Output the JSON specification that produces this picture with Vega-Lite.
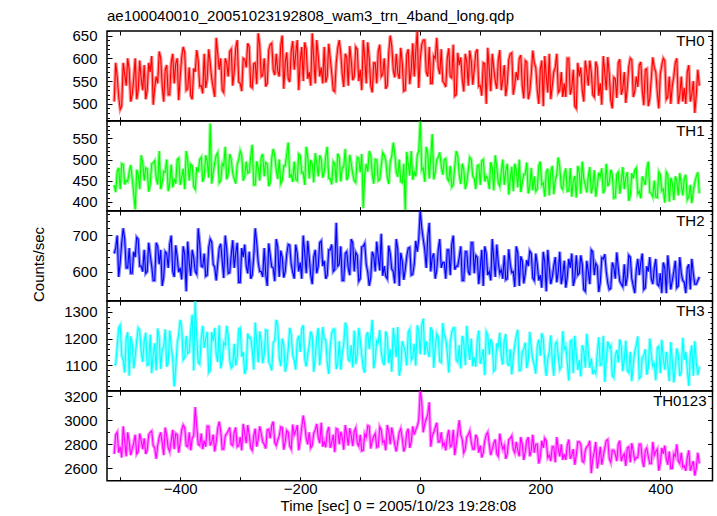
{
"$schema":"https://vega.github.io/schema/vega-lite/v6.json",
"padding":{"left":31,"top":9,"right":0,"bottom":0},
"background":"white",
"title":{"text":"ae100040010_20051023192808_wam3_trn_4band_long.qdp","anchor":"start","frame":"group","fontSize":15,"fontWeight":"normal","font":"Liberation Sans","color":"#000","offset":-1},
"datasets":{
"TH0":[{"t":-510,"v":505},{"t":-505,"v":560},{"t":-500,"v":488},{"t":-495,"v":590},{"t":-490,"v":540},{"t":-485,"v":575},{"t":-480,"v":520},{"t":-475,"v":600},{"t":-470,"v":530},{"t":-465,"v":555},
{"t":-460,"v":585},{"t":-455,"v":530},{"t":-450,"v":570},{"t":-445,"v":498},{"t":-440,"v":560},{"t":-435,"v":615},{"t":-430,"v":540},{"t":-425,"v":575},{"t":-420,"v":520},{"t":-415,"v":590},
{"t":-410,"v":545},{"t":-405,"v":600},{"t":-400,"v":560},{"t":-395,"v":625},{"t":-390,"v":530},{"t":-385,"v":580},{"t":-380,"v":510},{"t":-375,"v":570},{"t":-370,"v":595},{"t":-365,"v":540},
{"t":-360,"v":610},{"t":-355,"v":555},{"t":-350,"v":590},{"t":-345,"v":535},{"t":-340,"v":645},{"t":-335,"v":575},{"t":-330,"v":530},{"t":-325,"v":600},{"t":-320,"v":560},{"t":-315,"v":620},
{"t":-310,"v":570},{"t":-305,"v":640},{"t":-300,"v":545},{"t":-295,"v":600},{"t":-290,"v":580},{"t":-285,"v":625},{"t":-280,"v":535},{"t":-275,"v":590},{"t":-270,"v":655},{"t":-265,"v":560},
{"t":-260,"v":600},{"t":-255,"v":545},{"t":-250,"v":630},{"t":-245,"v":575},{"t":-240,"v":610},{"t":-235,"v":560},{"t":-230,"v":650},{"t":-225,"v":590},{"t":-220,"v":555},{"t":-215,"v":615},
{"t":-210,"v":575},{"t":-205,"v":640},{"t":-200,"v":595},{"t":-195,"v":550},{"t":-190,"v":620},{"t":-185,"v":570},{"t":-180,"v":655},{"t":-175,"v":545},{"t":-170,"v":605},{"t":-165,"v":580},
{"t":-160,"v":625},{"t":-155,"v":560},{"t":-150,"v":600},{"t":-145,"v":530},{"t":-140,"v":590},{"t":-135,"v":640},{"t":-130,"v":565},{"t":-125,"v":610},{"t":-120,"v":540},{"t":-115,"v":595},
{"t":-110,"v":560},{"t":-105,"v":620},{"t":-100,"v":575},{"t":-95,"v":640},{"t":-90,"v":545},{"t":-85,"v":600},{"t":-80,"v":525},{"t":-75,"v":590},{"t":-70,"v":615},{"t":-65,"v":560},
{"t":-60,"v":600},{"t":-55,"v":540},{"t":-50,"v":650},{"t":-45,"v":575},{"t":-40,"v":610},{"t":-35,"v":555},{"t":-30,"v":590},{"t":-25,"v":530},{"t":-20,"v":620},{"t":-15,"v":575},
{"t":-10,"v":560},{"t":-5,"v":660},{"t":0,"v":600},{"t":5,"v":640},{"t":10,"v":570},{"t":15,"v":625},{"t":20,"v":545},{"t":25,"v":600},{"t":30,"v":580},{"t":35,"v":620},
{"t":40,"v":545},{"t":45,"v":600},{"t":50,"v":560},{"t":55,"v":630},{"t":60,"v":520},{"t":65,"v":585},{"t":70,"v":555},{"t":75,"v":610},{"t":80,"v":540},{"t":85,"v":595},
{"t":90,"v":575},{"t":95,"v":620},{"t":100,"v":540},{"t":105,"v":590},{"t":110,"v":500},{"t":115,"v":575},{"t":120,"v":610},{"t":125,"v":550},{"t":130,"v":595},{"t":135,"v":530},
{"t":140,"v":585},{"t":145,"v":545},{"t":150,"v":610},{"t":155,"v":520},{"t":160,"v":570},{"t":165,"v":600},{"t":170,"v":540},{"t":175,"v":595},{"t":180,"v":510},{"t":185,"v":565},
{"t":190,"v":590},{"t":195,"v":530},{"t":200,"v":575},{"t":205,"v":495},{"t":210,"v":560},{"t":215,"v":610},{"t":220,"v":540},{"t":225,"v":580},{"t":230,"v":525},{"t":235,"v":570},
{"t":240,"v":545},{"t":245,"v":600},{"t":250,"v":520},{"t":255,"v":575},{"t":260,"v":490},{"t":265,"v":560},{"t":270,"v":530},{"t":275,"v":595},{"t":280,"v":540},{"t":285,"v":570},
{"t":290,"v":515},{"t":295,"v":580},{"t":300,"v":545},{"t":305,"v":605},{"t":310,"v":530},{"t":315,"v":565},{"t":320,"v":490},{"t":325,"v":555},{"t":330,"v":590},{"t":335,"v":520},
{"t":340,"v":570},{"t":345,"v":535},{"t":350,"v":600},{"t":355,"v":515},{"t":360,"v":560},{"t":365,"v":585},{"t":370,"v":530},{"t":375,"v":575},{"t":380,"v":495},{"t":385,"v":555},
{"t":390,"v":580},{"t":395,"v":525},{"t":400,"v":565},{"t":405,"v":600},{"t":410,"v":510},{"t":415,"v":560},{"t":420,"v":540},{"t":425,"v":590},{"t":430,"v":500},{"t":435,"v":560},
{"t":440,"v":535},{"t":445,"v":570},{"t":450,"v":505},{"t":455,"v":550},{"t":460,"v":520},{"t":465,"v":540},
{"t":-507.5,"v":590},{"t":-502.5,"v":515},{"t":-497.5,"v":495},{"t":-492.5,"v":565},{"t":-487.5,"v":600},{"t":-482.5,"v":505},{"t":-477.5,"v":555},{"t":-472.5,"v":510},{"t":-467.5,"v":595},{"t":-462.5,"v":530},
{"t":-457.5,"v":510},{"t":-452.5,"v":590},{"t":-447.5,"v":605},{"t":-442.5,"v":535},{"t":-437.5,"v":545},{"t":-432.5,"v":600},{"t":-427.5,"v":505},{"t":-422.5,"v":585},{"t":-417.5,"v":520},{"t":-412.5,"v":610},
{"t":-407.5,"v":588},{"t":-402.5,"v":508},{"t":-397.5,"v":603},{"t":-392.5,"v":613},{"t":-387.5,"v":533},{"t":-382.5,"v":518},{"t":-377.5,"v":578},{"t":-372.5,"v":618},{"t":-367.5,"v":538},{"t":-362.5,"v":523},
{"t":-357.5,"v":535},{"t":-352.5,"v":620},{"t":-347.5,"v":555},{"t":-342.5,"v":515},{"t":-337.5,"v":610},{"t":-332.5,"v":600},{"t":-327.5,"v":525},{"t":-322.5,"v":590},{"t":-317.5,"v":615},{"t":-312.5,"v":540},
{"t":-307.5,"v":623},{"t":-302.5,"v":548},{"t":-297.5,"v":528},{"t":-292.5,"v":598},{"t":-287.5,"v":633},{"t":-282.5,"v":538},{"t":-277.5,"v":588},{"t":-272.5,"v":543},{"t":-267.5,"v":628},{"t":-262.5,"v":563},
{"t":-257.5,"v":538},{"t":-252.5,"v":618},{"t":-247.5,"v":633},{"t":-242.5,"v":563},{"t":-237.5,"v":573},{"t":-232.5,"v":628},{"t":-227.5,"v":533},{"t":-222.5,"v":613},{"t":-217.5,"v":548},{"t":-212.5,"v":638},
{"t":-207.5,"v":610},{"t":-202.5,"v":530},{"t":-197.5,"v":625},{"t":-192.5,"v":635},{"t":-187.5,"v":555},{"t":-182.5,"v":540},{"t":-177.5,"v":600},{"t":-172.5,"v":640},{"t":-167.5,"v":560},{"t":-162.5,"v":545},
{"t":-157.5,"v":547},{"t":-152.5,"v":632},{"t":-147.5,"v":567},{"t":-142.5,"v":527},{"t":-137.5,"v":622},{"t":-132.5,"v":612},{"t":-127.5,"v":537},{"t":-122.5,"v":602},{"t":-117.5,"v":627},{"t":-112.5,"v":552},
{"t":-107.5,"v":625},{"t":-102.5,"v":550},{"t":-97.5,"v":530},{"t":-92.5,"v":600},{"t":-87.5,"v":635},{"t":-82.5,"v":540},{"t":-77.5,"v":590},{"t":-72.5,"v":545},{"t":-67.5,"v":630},{"t":-62.5,"v":565},
{"t":-57.5,"v":533},{"t":-52.5,"v":613},{"t":-47.5,"v":628},{"t":-42.5,"v":558},{"t":-37.5,"v":568},{"t":-32.5,"v":623},{"t":-27.5,"v":528},{"t":-22.5,"v":608},{"t":-17.5,"v":543},{"t":-12.5,"v":633},
{"t":-7.5,"v":615},{"t":-2.5,"v":535},{"t":2.5,"v":630},{"t":7.5,"v":640},{"t":12.5,"v":560},{"t":17.5,"v":545},{"t":22.5,"v":605},{"t":27.5,"v":645},{"t":32.5,"v":565},{"t":37.5,"v":550},
{"t":42.5,"v":537},{"t":47.5,"v":622},{"t":52.5,"v":557},{"t":57.5,"v":517},{"t":62.5,"v":612},{"t":67.5,"v":602},{"t":72.5,"v":527},{"t":77.5,"v":592},{"t":82.5,"v":617},{"t":87.5,"v":542},
{"t":92.5,"v":613},{"t":97.5,"v":538},{"t":102.5,"v":518},{"t":107.5,"v":588},{"t":112.5,"v":623},{"t":117.5,"v":528},{"t":122.5,"v":578},{"t":127.5,"v":533},{"t":132.5,"v":618},{"t":137.5,"v":553},
{"t":142.5,"v":517},{"t":147.5,"v":597},{"t":152.5,"v":612},{"t":157.5,"v":542},{"t":162.5,"v":552},{"t":167.5,"v":607},{"t":172.5,"v":512},{"t":177.5,"v":592},{"t":182.5,"v":527},{"t":187.5,"v":617},
{"t":192.5,"v":580},{"t":197.5,"v":500},{"t":202.5,"v":595},{"t":207.5,"v":605},{"t":212.5,"v":525},{"t":217.5,"v":510},{"t":222.5,"v":570},{"t":227.5,"v":610},{"t":232.5,"v":530},{"t":237.5,"v":515},
{"t":242.5,"v":515},{"t":247.5,"v":600},{"t":252.5,"v":535},{"t":257.5,"v":495},{"t":262.5,"v":590},{"t":267.5,"v":580},{"t":272.5,"v":505},{"t":277.5,"v":570},{"t":282.5,"v":595},{"t":287.5,"v":520},
{"t":292.5,"v":593},{"t":297.5,"v":518},{"t":302.5,"v":498},{"t":307.5,"v":568},{"t":312.5,"v":603},{"t":317.5,"v":508},{"t":322.5,"v":558},{"t":327.5,"v":513},{"t":332.5,"v":598},{"t":337.5,"v":533},
{"t":342.5,"v":502},{"t":347.5,"v":582},{"t":352.5,"v":597},{"t":357.5,"v":527},{"t":362.5,"v":537},{"t":367.5,"v":592},{"t":372.5,"v":497},{"t":377.5,"v":577},{"t":382.5,"v":512},{"t":387.5,"v":602},
{"t":392.5,"v":570},{"t":397.5,"v":490},{"t":402.5,"v":585},{"t":407.5,"v":595},{"t":412.5,"v":515},{"t":417.5,"v":500},{"t":422.5,"v":560},{"t":427.5,"v":600},{"t":432.5,"v":520},{"t":437.5,"v":505},
{"t":442.5,"v":500},{"t":447.5,"v":585},{"t":452.5,"v":520},{"t":457.5,"v":480},{"t":462.5,"v":575}],
"TH1":[{"t":-510,"v":440},{"t":-505,"v":472},{"t":-500,"v":430},{"t":-495,"v":488},{"t":-490,"v":450},{"t":-485,"v":470},{"t":-480,"v":455},{"t":-475,"v":382},{"t":-470,"v":465},{"t":-465,"v":510},
{"t":-460,"v":450},{"t":-455,"v":478},{"t":-450,"v":440},{"t":-445,"v":492},{"t":-440,"v":455},{"t":-435,"v":520},{"t":-430,"v":445},{"t":-425,"v":470},{"t":-420,"v":425},{"t":-415,"v":488},
{"t":-410,"v":455},{"t":-405,"v":500},{"t":-400,"v":440},{"t":-395,"v":478},{"t":-390,"v":520},{"t":-385,"v":450},{"t":-380,"v":485},{"t":-375,"v":430},{"t":-370,"v":470},{"t":-365,"v":505},
{"t":-360,"v":460},{"t":-355,"v":495},{"t":-350,"v":585},{"t":-345,"v":470},{"t":-340,"v":510},{"t":-335,"v":445},{"t":-330,"v":490},{"t":-325,"v":530},{"t":-320,"v":465},{"t":-315,"v":500},
{"t":-310,"v":455},{"t":-305,"v":488},{"t":-300,"v":520},{"t":-295,"v":450},{"t":-290,"v":495},{"t":-285,"v":470},{"t":-280,"v":535},{"t":-275,"v":440},{"t":-270,"v":480},{"t":-265,"v":505},
{"t":-260,"v":460},{"t":-255,"v":490},{"t":-250,"v":445},{"t":-245,"v":525},{"t":-240,"v":475},{"t":-235,"v":500},{"t":-230,"v":450},{"t":-225,"v":485},{"t":-220,"v":540},{"t":-215,"v":465},
{"t":-210,"v":495},{"t":-205,"v":450},{"t":-200,"v":510},{"t":-195,"v":470},{"t":-190,"v":530},{"t":-185,"v":455},{"t":-180,"v":490},{"t":-175,"v":515},{"t":-170,"v":460},{"t":-165,"v":500},
{"t":-160,"v":470},{"t":-155,"v":530},{"t":-150,"v":455},{"t":-145,"v":495},{"t":-140,"v":445},{"t":-135,"v":505},{"t":-130,"v":480},{"t":-125,"v":525},{"t":-120,"v":460},{"t":-115,"v":490},
{"t":-110,"v":450},{"t":-105,"v":505},{"t":-100,"v":470},{"t":-95,"v":385},{"t":-90,"v":490},{"t":-85,"v":520},{"t":-80,"v":465},{"t":-75,"v":500},{"t":-70,"v":450},{"t":-65,"v":485},
{"t":-60,"v":510},{"t":-55,"v":460},{"t":-50,"v":495},{"t":-45,"v":540},{"t":-40,"v":470},{"t":-35,"v":500},{"t":-30,"v":445},{"t":-25,"v":380},{"t":-20,"v":490},{"t":-15,"v":520},
{"t":-10,"v":470},{"t":-5,"v":510},{"t":0,"v":590},{"t":5,"v":480},{"t":10,"v":530},{"t":15,"v":455},{"t":20,"v":560},{"t":25,"v":470},{"t":30,"v":505},{"t":35,"v":485},
{"t":40,"v":500},{"t":45,"v":455},{"t":50,"v":485},{"t":55,"v":440},{"t":60,"v":520},{"t":65,"v":465},{"t":70,"v":490},{"t":75,"v":430},{"t":80,"v":475},{"t":85,"v":500},
{"t":90,"v":455},{"t":95,"v":485},{"t":100,"v":440},{"t":105,"v":500},{"t":110,"v":460},{"t":115,"v":430},{"t":120,"v":480},{"t":125,"v":510},{"t":130,"v":445},{"t":135,"v":470},
{"t":140,"v":440},{"t":145,"v":490},{"t":150,"v":455},{"t":155,"v":425},{"t":160,"v":475},{"t":165,"v":500},{"t":170,"v":445},{"t":175,"v":465},{"t":180,"v":420},{"t":185,"v":480},
{"t":190,"v":460},{"t":195,"v":430},{"t":200,"v":495},{"t":205,"v":445},{"t":210,"v":470},{"t":215,"v":415},{"t":220,"v":485},{"t":225,"v":450},{"t":230,"v":505},{"t":235,"v":435},
{"t":240,"v":465},{"t":245,"v":425},{"t":250,"v":480},{"t":255,"v":450},{"t":260,"v":410},{"t":265,"v":470},{"t":270,"v":495},{"t":275,"v":440},{"t":280,"v":460},{"t":285,"v":420},
{"t":290,"v":475},{"t":295,"v":440},{"t":300,"v":460},{"t":305,"v":420},{"t":310,"v":490},{"t":315,"v":445},{"t":320,"v":465},{"t":325,"v":410},{"t":330,"v":470},{"t":335,"v":450},
{"t":340,"v":430},{"t":345,"v":470},{"t":350,"v":415},{"t":355,"v":455},{"t":360,"v":480},{"t":365,"v":425},{"t":370,"v":460},{"t":375,"v":440},{"t":380,"v":495},{"t":385,"v":420},
{"t":390,"v":450},{"t":395,"v":410},{"t":400,"v":465},{"t":405,"v":430},{"t":410,"v":470},{"t":415,"v":400},{"t":420,"v":445},{"t":425,"v":460},{"t":430,"v":415},{"t":435,"v":440},
{"t":440,"v":455},{"t":445,"v":405},{"t":450,"v":440},{"t":455,"v":425},{"t":460,"v":460},{"t":465,"v":420},
{"t":-507.5,"v":423},{"t":-502.5,"v":480},{"t":-497.5,"v":490},{"t":-492.5,"v":441},{"t":-487.5,"v":448},{"t":-482.5,"v":487},{"t":-477.5,"v":420},{"t":-472.5,"v":476},{"t":-467.5,"v":430},{"t":-462.5,"v":493},
{"t":-457.5,"v":480},{"t":-452.5,"v":424},{"t":-447.5,"v":490},{"t":-442.5,"v":497},{"t":-437.5,"v":441},{"t":-432.5,"v":430},{"t":-427.5,"v":472},{"t":-422.5,"v":500},{"t":-417.5,"v":444},{"t":-412.5,"v":434},
{"t":-407.5,"v":443},{"t":-402.5,"v":503},{"t":-397.5,"v":458},{"t":-392.5,"v":430},{"t":-387.5,"v":496},{"t":-382.5,"v":489},{"t":-377.5,"v":436},{"t":-372.5,"v":482},{"t":-367.5,"v":500},{"t":-362.5,"v":447},
{"t":-357.5,"v":510},{"t":-352.5,"v":457},{"t":-347.5,"v":443},{"t":-342.5,"v":492},{"t":-337.5,"v":516},{"t":-332.5,"v":450},{"t":-327.5,"v":485},{"t":-322.5,"v":453},{"t":-317.5,"v":513},{"t":-312.5,"v":468},
{"t":-307.5,"v":443},{"t":-302.5,"v":500},{"t":-297.5,"v":510},{"t":-292.5,"v":461},{"t":-287.5,"v":468},{"t":-282.5,"v":507},{"t":-277.5,"v":440},{"t":-272.5,"v":496},{"t":-267.5,"v":450},{"t":-262.5,"v":513},
{"t":-257.5,"v":493},{"t":-252.5,"v":437},{"t":-247.5,"v":503},{"t":-242.5,"v":510},{"t":-237.5,"v":454},{"t":-232.5,"v":443},{"t":-227.5,"v":485},{"t":-222.5,"v":513},{"t":-217.5,"v":457},{"t":-212.5,"v":447},
{"t":-207.5,"v":453},{"t":-202.5,"v":513},{"t":-197.5,"v":468},{"t":-192.5,"v":440},{"t":-187.5,"v":506},{"t":-182.5,"v":499},{"t":-177.5,"v":446},{"t":-172.5,"v":492},{"t":-167.5,"v":510},{"t":-162.5,"v":457},
{"t":-157.5,"v":508},{"t":-152.5,"v":455},{"t":-147.5,"v":441},{"t":-142.5,"v":490},{"t":-137.5,"v":514},{"t":-132.5,"v":448},{"t":-127.5,"v":483},{"t":-122.5,"v":451},{"t":-117.5,"v":511},{"t":-112.5,"v":466},
{"t":-107.5,"v":446},{"t":-102.5,"v":503},{"t":-97.5,"v":513},{"t":-92.5,"v":464},{"t":-87.5,"v":471},{"t":-82.5,"v":510},{"t":-77.5,"v":443},{"t":-72.5,"v":499},{"t":-67.5,"v":453},{"t":-62.5,"v":516},
{"t":-57.5,"v":498},{"t":-52.5,"v":442},{"t":-47.5,"v":508},{"t":-42.5,"v":515},{"t":-37.5,"v":459},{"t":-32.5,"v":448},{"t":-27.5,"v":490},{"t":-22.5,"v":518},{"t":-17.5,"v":462},{"t":-12.5,"v":452},
{"t":-7.5,"v":460},{"t":-2.5,"v":520},{"t":2.5,"v":475},{"t":7.5,"v":447},{"t":12.5,"v":513},{"t":17.5,"v":506},{"t":22.5,"v":453},{"t":27.5,"v":499},{"t":32.5,"v":517},{"t":37.5,"v":464},
{"t":42.5,"v":502},{"t":47.5,"v":449},{"t":52.5,"v":435},{"t":57.5,"v":484},{"t":62.5,"v":508},{"t":67.5,"v":442},{"t":72.5,"v":477},{"t":77.5,"v":445},{"t":82.5,"v":505},{"t":87.5,"v":460},
{"t":92.5,"v":430},{"t":97.5,"v":487},{"t":102.5,"v":497},{"t":107.5,"v":448},{"t":112.5,"v":455},{"t":117.5,"v":494},{"t":122.5,"v":427},{"t":127.5,"v":483},{"t":132.5,"v":437},{"t":137.5,"v":500},
{"t":142.5,"v":473},{"t":147.5,"v":417},{"t":152.5,"v":483},{"t":157.5,"v":490},{"t":162.5,"v":434},{"t":167.5,"v":423},{"t":172.5,"v":465},{"t":177.5,"v":493},{"t":182.5,"v":437},{"t":187.5,"v":427},
{"t":192.5,"v":425},{"t":197.5,"v":485},{"t":202.5,"v":440},{"t":207.5,"v":412},{"t":212.5,"v":478},{"t":217.5,"v":471},{"t":222.5,"v":418},{"t":227.5,"v":464},{"t":232.5,"v":482},{"t":237.5,"v":429},
{"t":242.5,"v":479},{"t":247.5,"v":426},{"t":252.5,"v":412},{"t":257.5,"v":461},{"t":262.5,"v":485},{"t":267.5,"v":419},{"t":272.5,"v":454},{"t":277.5,"v":422},{"t":282.5,"v":482},{"t":287.5,"v":437},
{"t":292.5,"v":412},{"t":297.5,"v":469},{"t":302.5,"v":479},{"t":307.5,"v":430},{"t":312.5,"v":437},{"t":317.5,"v":476},{"t":322.5,"v":409},{"t":327.5,"v":465},{"t":332.5,"v":419},{"t":337.5,"v":482},
{"t":342.5,"v":458},{"t":347.5,"v":402},{"t":352.5,"v":468},{"t":357.5,"v":475},{"t":362.5,"v":419},{"t":367.5,"v":408},{"t":372.5,"v":450},{"t":377.5,"v":478},{"t":382.5,"v":422},{"t":387.5,"v":412},
{"t":392.5,"v":411},{"t":397.5,"v":471},{"t":402.5,"v":426},{"t":407.5,"v":398},{"t":412.5,"v":464},{"t":417.5,"v":457},{"t":422.5,"v":404},{"t":427.5,"v":450},{"t":432.5,"v":468},{"t":437.5,"v":415},
{"t":442.5,"v":464},{"t":447.5,"v":411},{"t":452.5,"v":397},{"t":457.5,"v":446},{"t":462.5,"v":470}],
"TH2":[{"t":-510,"v":650},{"t":-505,"v":700},{"t":-500,"v":625},{"t":-495,"v":720},{"t":-490,"v":610},{"t":-485,"v":665},{"t":-480,"v":595},{"t":-475,"v":640},{"t":-470,"v":690},{"t":-465,"v":615},
{"t":-460,"v":660},{"t":-455,"v":600},{"t":-450,"v":645},{"t":-445,"v":575},{"t":-440,"v":680},{"t":-435,"v":620},{"t":-430,"v":560},{"t":-425,"v":655},{"t":-420,"v":610},{"t":-415,"v":700},
{"t":-410,"v":585},{"t":-405,"v":640},{"t":-400,"v":610},{"t":-395,"v":670},{"t":-390,"v":545},{"t":-385,"v":625},{"t":-380,"v":660},{"t":-375,"v":600},{"t":-370,"v":720},{"t":-365,"v":615},
{"t":-360,"v":650},{"t":-355,"v":590},{"t":-350,"v":690},{"t":-345,"v":620},{"t":-340,"v":575},{"t":-335,"v":665},{"t":-330,"v":630},{"t":-325,"v":700},{"t":-320,"v":595},{"t":-315,"v":645},
{"t":-310,"v":610},{"t":-305,"v":680},{"t":-300,"v":570},{"t":-295,"v":640},{"t":-290,"v":615},{"t":-285,"v":655},{"t":-280,"v":590},{"t":-275,"v":720},{"t":-270,"v":625},{"t":-265,"v":600},
{"t":-260,"v":665},{"t":-255,"v":560},{"t":-250,"v":645},{"t":-245,"v":610},{"t":-240,"v":690},{"t":-235,"v":585},{"t":-230,"v":640},{"t":-225,"v":600},{"t":-220,"v":675},{"t":-215,"v":620},
{"t":-210,"v":580},{"t":-205,"v":650},{"t":-200,"v":625},{"t":-195,"v":700},{"t":-190,"v":595},{"t":-185,"v":640},{"t":-180,"v":565},{"t":-175,"v":660},{"t":-170,"v":615},{"t":-165,"v":685},
{"t":-160,"v":630},{"t":-155,"v":590},{"t":-150,"v":660},{"t":-145,"v":600},{"t":-140,"v":735},{"t":-135,"v":620},{"t":-130,"v":575},{"t":-125,"v":650},{"t":-120,"v":610},{"t":-115,"v":690},
{"t":-110,"v":600},{"t":-105,"v":645},{"t":-100,"v":580},{"t":-95,"v":670},{"t":-90,"v":620},{"t":-85,"v":560},{"t":-80,"v":655},{"t":-75,"v":600},{"t":-70,"v":640},{"t":-65,"v":705},
{"t":-60,"v":615},{"t":-55,"v":580},{"t":-50,"v":650},{"t":-45,"v":600},{"t":-40,"v":690},{"t":-35,"v":560},{"t":-30,"v":630},{"t":-25,"v":605},{"t":-20,"v":665},{"t":-15,"v":590},
{"t":-10,"v":620},{"t":-5,"v":655},{"t":0,"v":770},{"t":5,"v":690},{"t":10,"v":610},{"t":15,"v":735},{"t":20,"v":640},{"t":25,"v":580},{"t":30,"v":660},{"t":35,"v":610},
{"t":40,"v":625},{"t":45,"v":660},{"t":50,"v":590},{"t":55,"v":700},{"t":60,"v":615},{"t":65,"v":640},{"t":70,"v":575},{"t":75,"v":655},{"t":80,"v":600},{"t":85,"v":680},
{"t":90,"v":595},{"t":95,"v":640},{"t":100,"v":610},{"t":105,"v":560},{"t":110,"v":650},{"t":115,"v":600},{"t":120,"v":690},{"t":125,"v":585},{"t":130,"v":625},{"t":135,"v":605},
{"t":140,"v":645},{"t":145,"v":580},{"t":150,"v":620},{"t":155,"v":600},{"t":160,"v":670},{"t":165,"v":560},{"t":170,"v":630},{"t":175,"v":595},{"t":180,"v":615},{"t":185,"v":650},
{"t":190,"v":575},{"t":195,"v":620},{"t":200,"v":590},{"t":205,"v":655},{"t":210,"v":545},{"t":215,"v":610},{"t":220,"v":585},{"t":225,"v":640},{"t":230,"v":600},{"t":235,"v":565},
{"t":240,"v":630},{"t":245,"v":585},{"t":250,"v":610},{"t":255,"v":560},{"t":260,"v":645},{"t":265,"v":595},{"t":270,"v":620},{"t":275,"v":545},{"t":280,"v":600},{"t":285,"v":660},
{"t":290,"v":590},{"t":295,"v":615},{"t":300,"v":570},{"t":305,"v":635},{"t":310,"v":600},{"t":315,"v":550},{"t":320,"v":625},{"t":325,"v":580},{"t":330,"v":610},{"t":335,"v":565},
{"t":340,"v":620},{"t":345,"v":585},{"t":350,"v":640},{"t":355,"v":560},{"t":360,"v":605},{"t":365,"v":590},{"t":370,"v":650},{"t":375,"v":555},{"t":380,"v":600},{"t":385,"v":580},
{"t":390,"v":610},{"t":395,"v":565},{"t":400,"v":595},{"t":405,"v":625},{"t":410,"v":540},{"t":415,"v":600},{"t":420,"v":575},{"t":425,"v":630},{"t":430,"v":560},{"t":435,"v":595},
{"t":440,"v":570},{"t":445,"v":610},{"t":450,"v":550},{"t":455,"v":595},{"t":460,"v":565},{"t":465,"v":585},
{"t":-507.5,"v":665},{"t":-502.5,"v":585},{"t":-497.5,"v":680},{"t":-492.5,"v":690},{"t":-487.5,"v":610},{"t":-482.5,"v":595},{"t":-477.5,"v":655},{"t":-472.5,"v":695},{"t":-467.5,"v":615},{"t":-462.5,"v":600},
{"t":-457.5,"v":595},{"t":-452.5,"v":680},{"t":-447.5,"v":615},{"t":-442.5,"v":575},{"t":-437.5,"v":670},{"t":-432.5,"v":660},{"t":-427.5,"v":585},{"t":-422.5,"v":650},{"t":-417.5,"v":675},{"t":-412.5,"v":600},
{"t":-407.5,"v":673},{"t":-402.5,"v":598},{"t":-397.5,"v":578},{"t":-392.5,"v":648},{"t":-387.5,"v":683},{"t":-382.5,"v":588},{"t":-377.5,"v":638},{"t":-372.5,"v":593},{"t":-367.5,"v":678},{"t":-362.5,"v":613},
{"t":-357.5,"v":587},{"t":-352.5,"v":667},{"t":-347.5,"v":682},{"t":-342.5,"v":612},{"t":-337.5,"v":622},{"t":-332.5,"v":677},{"t":-327.5,"v":582},{"t":-322.5,"v":662},{"t":-317.5,"v":597},{"t":-312.5,"v":687},
{"t":-307.5,"v":650},{"t":-302.5,"v":570},{"t":-297.5,"v":665},{"t":-292.5,"v":675},{"t":-287.5,"v":595},{"t":-282.5,"v":580},{"t":-277.5,"v":640},{"t":-272.5,"v":680},{"t":-267.5,"v":600},{"t":-262.5,"v":585},
{"t":-257.5,"v":593},{"t":-252.5,"v":678},{"t":-247.5,"v":613},{"t":-242.5,"v":573},{"t":-237.5,"v":668},{"t":-232.5,"v":658},{"t":-227.5,"v":583},{"t":-222.5,"v":648},{"t":-217.5,"v":673},{"t":-212.5,"v":598},
{"t":-207.5,"v":675},{"t":-202.5,"v":600},{"t":-197.5,"v":580},{"t":-192.5,"v":650},{"t":-187.5,"v":685},{"t":-182.5,"v":590},{"t":-177.5,"v":640},{"t":-172.5,"v":595},{"t":-167.5,"v":680},{"t":-162.5,"v":615},
{"t":-157.5,"v":580},{"t":-152.5,"v":660},{"t":-147.5,"v":675},{"t":-142.5,"v":605},{"t":-137.5,"v":615},{"t":-132.5,"v":670},{"t":-127.5,"v":575},{"t":-122.5,"v":655},{"t":-117.5,"v":590},{"t":-112.5,"v":680},
{"t":-107.5,"v":653},{"t":-102.5,"v":573},{"t":-97.5,"v":668},{"t":-92.5,"v":678},{"t":-87.5,"v":598},{"t":-82.5,"v":583},{"t":-77.5,"v":643},{"t":-72.5,"v":683},{"t":-67.5,"v":603},{"t":-62.5,"v":588},
{"t":-57.5,"v":587},{"t":-52.5,"v":672},{"t":-47.5,"v":607},{"t":-42.5,"v":567},{"t":-37.5,"v":662},{"t":-32.5,"v":652},{"t":-27.5,"v":577},{"t":-22.5,"v":642},{"t":-17.5,"v":667},{"t":-12.5,"v":592},
{"t":-7.5,"v":685},{"t":-2.5,"v":690},{"t":2.5,"v":720},{"t":7.5,"v":660},{"t":12.5,"v":695},{"t":17.5,"v":600},{"t":22.5,"v":650},{"t":27.5,"v":605},{"t":32.5,"v":690},{"t":37.5,"v":625},
{"t":42.5,"v":580},{"t":47.5,"v":660},{"t":52.5,"v":675},{"t":57.5,"v":605},{"t":62.5,"v":615},{"t":67.5,"v":670},{"t":72.5,"v":575},{"t":77.5,"v":655},{"t":82.5,"v":590},{"t":87.5,"v":680},
{"t":92.5,"v":645},{"t":97.5,"v":565},{"t":102.5,"v":660},{"t":107.5,"v":670},{"t":112.5,"v":590},{"t":117.5,"v":575},{"t":122.5,"v":635},{"t":127.5,"v":675},{"t":132.5,"v":595},{"t":137.5,"v":580},
{"t":142.5,"v":577},{"t":147.5,"v":662},{"t":152.5,"v":597},{"t":157.5,"v":557},{"t":162.5,"v":652},{"t":167.5,"v":642},{"t":172.5,"v":567},{"t":177.5,"v":632},{"t":182.5,"v":657},{"t":187.5,"v":582},
{"t":192.5,"v":650},{"t":197.5,"v":575},{"t":202.5,"v":555},{"t":207.5,"v":625},{"t":212.5,"v":660},{"t":217.5,"v":565},{"t":222.5,"v":615},{"t":227.5,"v":570},{"t":232.5,"v":655},{"t":237.5,"v":590},
{"t":242.5,"v":555},{"t":247.5,"v":635},{"t":252.5,"v":650},{"t":257.5,"v":580},{"t":262.5,"v":590},{"t":267.5,"v":645},{"t":272.5,"v":550},{"t":277.5,"v":630},{"t":282.5,"v":565},{"t":287.5,"v":655},
{"t":292.5,"v":623},{"t":297.5,"v":543},{"t":302.5,"v":638},{"t":307.5,"v":648},{"t":312.5,"v":568},{"t":317.5,"v":553},{"t":322.5,"v":613},{"t":327.5,"v":653},{"t":332.5,"v":573},{"t":337.5,"v":558},
{"t":342.5,"v":560},{"t":347.5,"v":645},{"t":352.5,"v":580},{"t":357.5,"v":540},{"t":362.5,"v":635},{"t":367.5,"v":625},{"t":372.5,"v":550},{"t":377.5,"v":615},{"t":382.5,"v":640},{"t":387.5,"v":565},
{"t":392.5,"v":635},{"t":397.5,"v":560},{"t":402.5,"v":540},{"t":407.5,"v":610},{"t":412.5,"v":645},{"t":417.5,"v":550},{"t":422.5,"v":600},{"t":427.5,"v":555},{"t":432.5,"v":640},{"t":437.5,"v":575},
{"t":442.5,"v":540},{"t":447.5,"v":620},{"t":452.5,"v":635},{"t":457.5,"v":565},{"t":462.5,"v":575}],
"TH3":[{"t":-510,"v":1100},{"t":-505,"v":1170},{"t":-500,"v":1250},{"t":-495,"v":1120},{"t":-490,"v":1200},{"t":-485,"v":1060},{"t":-480,"v":1180},{"t":-475,"v":1130},{"t":-470,"v":1240},{"t":-465,"v":1150},
{"t":-460,"v":1190},{"t":-455,"v":1100},{"t":-450,"v":1215},{"t":-445,"v":1140},{"t":-440,"v":1080},{"t":-435,"v":1200},{"t":-430,"v":1160},{"t":-425,"v":1235},{"t":-420,"v":1110},{"t":-415,"v":1170},
{"t":-410,"v":1020},{"t":-405,"v":1180},{"t":-400,"v":1270},{"t":-395,"v":1120},{"t":-390,"v":1210},{"t":-385,"v":1150},{"t":-380,"v":1290},{"t":-375,"v":1340},{"t":-370,"v":1110},{"t":-365,"v":1200},
{"t":-360,"v":1165},{"t":-355,"v":1225},{"t":-350,"v":1080},{"t":-345,"v":1190},{"t":-340,"v":1140},{"t":-335,"v":1250},{"t":-330,"v":1120},{"t":-325,"v":1175},{"t":-320,"v":1210},{"t":-315,"v":1090},
{"t":-310,"v":1180},{"t":-305,"v":1130},{"t":-300,"v":1240},{"t":-295,"v":1150},{"t":-290,"v":1085},{"t":-285,"v":1200},{"t":-280,"v":1160},{"t":-275,"v":1260},{"t":-270,"v":1110},{"t":-265,"v":1190},
{"t":-260,"v":1140},{"t":-255,"v":1230},{"t":-250,"v":1100},{"t":-245,"v":1185},{"t":-240,"v":1270},{"t":-235,"v":1130},{"t":-230,"v":1200},{"t":-225,"v":1075},{"t":-220,"v":1160},{"t":-215,"v":1215},
{"t":-210,"v":1120},{"t":-205,"v":1190},{"t":-200,"v":1150},{"t":-195,"v":1250},{"t":-190,"v":1095},{"t":-185,"v":1175},{"t":-180,"v":1210},{"t":-175,"v":1130},{"t":-170,"v":1240},{"t":-165,"v":1160},
{"t":-160,"v":1200},{"t":-155,"v":1110},{"t":-150,"v":1170},{"t":-145,"v":1235},{"t":-140,"v":1085},{"t":-135,"v":1190},{"t":-130,"v":1145},{"t":-125,"v":1260},{"t":-120,"v":1120},{"t":-115,"v":1175},
{"t":-110,"v":1230},{"t":-105,"v":1140},{"t":-100,"v":1195},{"t":-95,"v":1090},{"t":-90,"v":1210},{"t":-85,"v":1160},{"t":-80,"v":1270},{"t":-75,"v":1125},{"t":-70,"v":1185},{"t":-65,"v":1150},
{"t":-60,"v":1100},{"t":-55,"v":1205},{"t":-50,"v":1160},{"t":-45,"v":1240},{"t":-40,"v":1130},{"t":-35,"v":1060},{"t":-30,"v":1190},{"t":-25,"v":1150},{"t":-20,"v":1225},{"t":-15,"v":1120},
{"t":-10,"v":1180},{"t":-5,"v":1250},{"t":0,"v":1140},{"t":5,"v":1275},{"t":10,"v":1190},{"t":15,"v":1130},{"t":20,"v":1230},{"t":25,"v":1170},{"t":30,"v":1205},{"t":35,"v":1110},
{"t":40,"v":1215},{"t":45,"v":1150},{"t":50,"v":1185},{"t":55,"v":1240},{"t":60,"v":1120},{"t":65,"v":1175},{"t":70,"v":1210},{"t":75,"v":1100},{"t":80,"v":1165},{"t":85,"v":1200},
{"t":90,"v":1130},{"t":95,"v":1190},{"t":100,"v":1105},{"t":105,"v":1160},{"t":110,"v":1225},{"t":115,"v":1140},{"t":120,"v":1180},{"t":125,"v":1085},{"t":130,"v":1170},{"t":135,"v":1135},
{"t":140,"v":1195},{"t":145,"v":1110},{"t":150,"v":1160},{"t":155,"v":1130},{"t":160,"v":1210},{"t":165,"v":1080},{"t":170,"v":1150},{"t":175,"v":1185},{"t":180,"v":1120},{"t":185,"v":1165},
{"t":190,"v":1100},{"t":195,"v":1170},{"t":200,"v":1135},{"t":205,"v":1200},{"t":210,"v":1060},{"t":215,"v":1150},{"t":220,"v":1115},{"t":225,"v":1180},{"t":230,"v":1130},{"t":235,"v":1095},
{"t":240,"v":1160},{"t":245,"v":1110},{"t":250,"v":1190},{"t":255,"v":1070},{"t":260,"v":1140},{"t":265,"v":1120},{"t":270,"v":1175},{"t":275,"v":1090},{"t":280,"v":1150},{"t":285,"v":1125},
{"t":290,"v":1080},{"t":295,"v":1145},{"t":300,"v":1100},{"t":305,"v":1210},{"t":310,"v":1120},{"t":315,"v":1165},{"t":320,"v":1060},{"t":325,"v":1135},{"t":330,"v":1110},{"t":335,"v":1170},
{"t":340,"v":1120},{"t":345,"v":1080},{"t":350,"v":1150},{"t":355,"v":1105},{"t":360,"v":1175},{"t":365,"v":1050},{"t":370,"v":1130},{"t":375,"v":1160},{"t":380,"v":1090},{"t":385,"v":1140},
{"t":390,"v":1105},{"t":395,"v":1165},{"t":400,"v":1070},{"t":405,"v":1125},{"t":410,"v":1150},{"t":415,"v":1040},{"t":420,"v":1115},{"t":425,"v":1095},{"t":430,"v":1140},{"t":435,"v":1075},
{"t":440,"v":1120},{"t":445,"v":1085},{"t":450,"v":1140},{"t":455,"v":1060},{"t":460,"v":1110},{"t":465,"v":1095},
{"t":-507.5,"v":1104},{"t":-502.5,"v":1240},{"t":-497.5,"v":1136},{"t":-492.5,"v":1072},{"t":-487.5,"v":1224},{"t":-482.5,"v":1208},{"t":-477.5,"v":1088},{"t":-472.5,"v":1192},{"t":-467.5,"v":1232},{"t":-462.5,"v":1112},
{"t":-457.5,"v":1222},{"t":-452.5,"v":1102},{"t":-447.5,"v":1070},{"t":-442.5,"v":1182},{"t":-437.5,"v":1238},{"t":-432.5,"v":1086},{"t":-427.5,"v":1166},{"t":-422.5,"v":1094},{"t":-417.5,"v":1230},{"t":-412.5,"v":1126},
{"t":-407.5,"v":1088},{"t":-402.5,"v":1216},{"t":-397.5,"v":1240},{"t":-392.5,"v":1128},{"t":-387.5,"v":1144},{"t":-382.5,"v":1232},{"t":-377.5,"v":1080},{"t":-372.5,"v":1208},{"t":-367.5,"v":1104},{"t":-362.5,"v":1248},
{"t":-357.5,"v":1200},{"t":-352.5,"v":1072},{"t":-347.5,"v":1224},{"t":-342.5,"v":1240},{"t":-337.5,"v":1112},{"t":-332.5,"v":1088},{"t":-327.5,"v":1184},{"t":-322.5,"v":1248},{"t":-317.5,"v":1120},{"t":-312.5,"v":1096},
{"t":-307.5,"v":1099},{"t":-302.5,"v":1235},{"t":-297.5,"v":1131},{"t":-292.5,"v":1067},{"t":-287.5,"v":1219},{"t":-282.5,"v":1203},{"t":-277.5,"v":1083},{"t":-272.5,"v":1187},{"t":-267.5,"v":1227},{"t":-262.5,"v":1107},
{"t":-257.5,"v":1232},{"t":-252.5,"v":1112},{"t":-247.5,"v":1080},{"t":-242.5,"v":1192},{"t":-237.5,"v":1248},{"t":-232.5,"v":1096},{"t":-227.5,"v":1176},{"t":-222.5,"v":1104},{"t":-217.5,"v":1240},{"t":-212.5,"v":1136},
{"t":-207.5,"v":1083},{"t":-202.5,"v":1211},{"t":-197.5,"v":1235},{"t":-192.5,"v":1123},{"t":-187.5,"v":1139},{"t":-182.5,"v":1227},{"t":-177.5,"v":1075},{"t":-172.5,"v":1203},{"t":-167.5,"v":1099},{"t":-162.5,"v":1243},
{"t":-157.5,"v":1195},{"t":-152.5,"v":1067},{"t":-147.5,"v":1219},{"t":-142.5,"v":1235},{"t":-137.5,"v":1107},{"t":-132.5,"v":1083},{"t":-127.5,"v":1179},{"t":-122.5,"v":1243},{"t":-117.5,"v":1115},{"t":-112.5,"v":1091},
{"t":-107.5,"v":1104},{"t":-102.5,"v":1240},{"t":-97.5,"v":1136},{"t":-92.5,"v":1072},{"t":-87.5,"v":1224},{"t":-82.5,"v":1208},{"t":-77.5,"v":1088},{"t":-72.5,"v":1192},{"t":-67.5,"v":1232},{"t":-62.5,"v":1112},
{"t":-57.5,"v":1227},{"t":-52.5,"v":1107},{"t":-47.5,"v":1075},{"t":-42.5,"v":1187},{"t":-37.5,"v":1243},{"t":-32.5,"v":1091},{"t":-27.5,"v":1171},{"t":-22.5,"v":1099},{"t":-17.5,"v":1235},{"t":-12.5,"v":1131},
{"t":-7.5,"v":1098},{"t":-2.5,"v":1226},{"t":2.5,"v":1250},{"t":7.5,"v":1138},{"t":12.5,"v":1154},{"t":17.5,"v":1242},{"t":22.5,"v":1090},{"t":27.5,"v":1218},{"t":32.5,"v":1114},{"t":37.5,"v":1258},
{"t":42.5,"v":1200},{"t":47.5,"v":1072},{"t":52.5,"v":1224},{"t":57.5,"v":1240},{"t":62.5,"v":1112},{"t":67.5,"v":1088},{"t":72.5,"v":1184},{"t":77.5,"v":1248},{"t":82.5,"v":1120},{"t":87.5,"v":1096},
{"t":92.5,"v":1094},{"t":97.5,"v":1230},{"t":102.5,"v":1126},{"t":107.5,"v":1062},{"t":112.5,"v":1214},{"t":117.5,"v":1198},{"t":122.5,"v":1078},{"t":127.5,"v":1182},{"t":132.5,"v":1222},{"t":137.5,"v":1102},
{"t":142.5,"v":1217},{"t":147.5,"v":1097},{"t":152.5,"v":1065},{"t":157.5,"v":1177},{"t":162.5,"v":1233},{"t":167.5,"v":1081},{"t":172.5,"v":1161},{"t":177.5,"v":1089},{"t":182.5,"v":1225},{"t":187.5,"v":1121},
{"t":192.5,"v":1068},{"t":197.5,"v":1196},{"t":202.5,"v":1220},{"t":207.5,"v":1108},{"t":212.5,"v":1124},{"t":217.5,"v":1212},{"t":222.5,"v":1060},{"t":227.5,"v":1188},{"t":232.5,"v":1084},{"t":237.5,"v":1228},
{"t":242.5,"v":1170},{"t":247.5,"v":1042},{"t":252.5,"v":1194},{"t":257.5,"v":1210},{"t":262.5,"v":1082},{"t":267.5,"v":1058},{"t":272.5,"v":1154},{"t":277.5,"v":1218},{"t":282.5,"v":1090},{"t":287.5,"v":1066},
{"t":292.5,"v":1069},{"t":297.5,"v":1205},{"t":302.5,"v":1101},{"t":307.5,"v":1037},{"t":312.5,"v":1189},{"t":317.5,"v":1173},{"t":322.5,"v":1053},{"t":327.5,"v":1157},{"t":332.5,"v":1197},{"t":337.5,"v":1077},
{"t":342.5,"v":1192},{"t":347.5,"v":1072},{"t":352.5,"v":1040},{"t":357.5,"v":1152},{"t":362.5,"v":1208},{"t":367.5,"v":1056},{"t":372.5,"v":1136},{"t":377.5,"v":1064},{"t":382.5,"v":1200},{"t":387.5,"v":1096},
{"t":392.5,"v":1043},{"t":397.5,"v":1171},{"t":402.5,"v":1195},{"t":407.5,"v":1083},{"t":412.5,"v":1099},{"t":417.5,"v":1187},{"t":422.5,"v":1035},{"t":427.5,"v":1163},{"t":432.5,"v":1059},{"t":437.5,"v":1203},
{"t":442.5,"v":1150},{"t":447.5,"v":1022},{"t":452.5,"v":1174},{"t":457.5,"v":1190},{"t":462.5,"v":1062}],
"TH0123":[{"t":-510,"v":2720},{"t":-505,"v":2900},{"t":-500,"v":2780},{"t":-495,"v":2950},{"t":-490,"v":2700},{"t":-485,"v":2820},{"t":-480,"v":2760},{"t":-475,"v":2880},{"t":-470,"v":2740},{"t":-465,"v":2830},
{"t":-460,"v":2850},{"t":-455,"v":2750},{"t":-450,"v":2900},{"t":-445,"v":2790},{"t":-440,"v":2680},{"t":-435,"v":2860},{"t":-430,"v":2810},{"t":-425,"v":2940},{"t":-420,"v":2770},{"t":-415,"v":2830},
{"t":-410,"v":2760},{"t":-405,"v":2880},{"t":-400,"v":2820},{"t":-395,"v":2960},{"t":-390,"v":2790},{"t":-385,"v":2900},{"t":-380,"v":2850},{"t":-375,"v":3110},{"t":-370,"v":2800},{"t":-365,"v":2890},
{"t":-360,"v":2830},{"t":-355,"v":2950},{"t":-350,"v":2790},{"t":-345,"v":2880},{"t":-340,"v":2820},{"t":-335,"v":2990},{"t":-330,"v":2760},{"t":-325,"v":2870},{"t":-320,"v":2910},{"t":-315,"v":2800},
{"t":-310,"v":2900},{"t":-305,"v":2780},{"t":-300,"v":2860},{"t":-295,"v":2970},{"t":-290,"v":2810},{"t":-285,"v":2880},{"t":-280,"v":2750},{"t":-275,"v":2930},{"t":-270,"v":2840},{"t":-265,"v":2890},
{"t":-260,"v":2800},{"t":-255,"v":2920},{"t":-250,"v":2850},{"t":-245,"v":2990},{"t":-240,"v":2790},{"t":-235,"v":2870},{"t":-230,"v":2940},{"t":-225,"v":2820},{"t":-220,"v":2900},{"t":-215,"v":2760},
{"t":-210,"v":2880},{"t":-205,"v":2960},{"t":-200,"v":2830},{"t":-195,"v":3040},{"t":-190,"v":2850},{"t":-185,"v":2900},{"t":-180,"v":2790},{"t":-175,"v":2920},{"t":-170,"v":2860},{"t":-165,"v":2980},
{"t":-160,"v":2820},{"t":-155,"v":2900},{"t":-150,"v":2770},{"t":-145,"v":2880},{"t":-140,"v":2930},{"t":-135,"v":2800},{"t":-130,"v":2860},{"t":-125,"v":2960},{"t":-120,"v":2790},{"t":-115,"v":2870},
{"t":-110,"v":2910},{"t":-105,"v":2810},{"t":-100,"v":2880},{"t":-95,"v":2750},{"t":-90,"v":2860},{"t":-85,"v":2950},{"t":-80,"v":2830},{"t":-75,"v":2890},{"t":-70,"v":2780},{"t":-65,"v":2920},
{"t":-60,"v":2830},{"t":-55,"v":2960},{"t":-50,"v":2800},{"t":-45,"v":2870},{"t":-40,"v":2740},{"t":-35,"v":2900},{"t":-30,"v":2850},{"t":-25,"v":2780},{"t":-20,"v":2930},{"t":-15,"v":2820},
{"t":-10,"v":2880},{"t":-5,"v":2950},{"t":0,"v":3250},{"t":5,"v":2900},{"t":10,"v":3010},{"t":15,"v":3150},{"t":20,"v":2870},{"t":25,"v":2940},{"t":30,"v":2820},{"t":35,"v":2900},
{"t":40,"v":2810},{"t":45,"v":2860},{"t":50,"v":2780},{"t":55,"v":2920},{"t":60,"v":2800},{"t":65,"v":3000},{"t":70,"v":2840},{"t":75,"v":2760},{"t":80,"v":2880},{"t":85,"v":2820},
{"t":90,"v":2760},{"t":95,"v":2850},{"t":100,"v":2790},{"t":105,"v":2730},{"t":110,"v":2880},{"t":115,"v":2800},{"t":120,"v":2760},{"t":125,"v":2840},{"t":130,"v":2700},{"t":135,"v":2810},
{"t":140,"v":2790},{"t":145,"v":2720},{"t":150,"v":2850},{"t":155,"v":2760},{"t":160,"v":2820},{"t":165,"v":2700},{"t":170,"v":2800},{"t":175,"v":2740},{"t":180,"v":2860},{"t":185,"v":2750},
{"t":190,"v":2730},{"t":195,"v":2800},{"t":200,"v":2690},{"t":205,"v":2770},{"t":210,"v":2830},{"t":215,"v":2710},{"t":220,"v":2780},{"t":225,"v":2650},{"t":230,"v":2760},{"t":235,"v":2800},
{"t":240,"v":2720},{"t":245,"v":2790},{"t":250,"v":2680},{"t":255,"v":2760},{"t":260,"v":2710},{"t":265,"v":2820},{"t":270,"v":2660},{"t":275,"v":2750},{"t":280,"v":2790},{"t":285,"v":2560},
{"t":290,"v":2740},{"t":295,"v":2600},{"t":300,"v":2780},{"t":305,"v":2700},{"t":310,"v":2830},{"t":315,"v":2680},{"t":320,"v":2750},{"t":325,"v":2720},{"t":330,"v":2800},{"t":335,"v":2660},
{"t":340,"v":2720},{"t":345,"v":2770},{"t":350,"v":2650},{"t":355,"v":2740},{"t":360,"v":2690},{"t":365,"v":2800},{"t":370,"v":2670},{"t":375,"v":2750},{"t":380,"v":2700},{"t":385,"v":2640},
{"t":390,"v":2710},{"t":395,"v":2760},{"t":400,"v":2640},{"t":405,"v":2720},{"t":410,"v":2680},{"t":415,"v":2740},{"t":420,"v":2600},{"t":425,"v":2700},{"t":430,"v":2660},{"t":435,"v":2730},
{"t":440,"v":2620},{"t":445,"v":2690},{"t":450,"v":2580},{"t":455,"v":2660},{"t":460,"v":2600},{"t":465,"v":2640},
{"t":-507.5,"v":2880},{"t":-502.5,"v":2730},{"t":-497.5,"v":2690},{"t":-492.5,"v":2830},{"t":-487.5,"v":2900},{"t":-482.5,"v":2710},{"t":-477.5,"v":2810},{"t":-472.5,"v":2720},{"t":-467.5,"v":2890},{"t":-462.5,"v":2760},
{"t":-457.5,"v":2720},{"t":-452.5,"v":2880},{"t":-447.5,"v":2910},{"t":-442.5,"v":2770},{"t":-437.5,"v":2790},{"t":-432.5,"v":2900},{"t":-427.5,"v":2710},{"t":-422.5,"v":2870},{"t":-417.5,"v":2740},{"t":-412.5,"v":2920},
{"t":-407.5,"v":2890},{"t":-402.5,"v":2730},{"t":-397.5,"v":2920},{"t":-392.5,"v":2940},{"t":-387.5,"v":2780},{"t":-382.5,"v":2750},{"t":-377.5,"v":2870},{"t":-372.5,"v":2950},{"t":-367.5,"v":2790},{"t":-362.5,"v":2760},
{"t":-357.5,"v":2780},{"t":-352.5,"v":2950},{"t":-347.5,"v":2820},{"t":-342.5,"v":2740},{"t":-337.5,"v":2930},{"t":-332.5,"v":2910},{"t":-327.5,"v":2760},{"t":-322.5,"v":2890},{"t":-317.5,"v":2940},{"t":-312.5,"v":2790},
{"t":-307.5,"v":2940},{"t":-302.5,"v":2790},{"t":-297.5,"v":2750},{"t":-292.5,"v":2890},{"t":-287.5,"v":2960},{"t":-282.5,"v":2770},{"t":-277.5,"v":2870},{"t":-272.5,"v":2780},{"t":-267.5,"v":2950},{"t":-262.5,"v":2820},
{"t":-257.5,"v":2765},{"t":-252.5,"v":2925},{"t":-247.5,"v":2955},{"t":-242.5,"v":2815},{"t":-237.5,"v":2835},{"t":-232.5,"v":2945},{"t":-227.5,"v":2755},{"t":-222.5,"v":2915},{"t":-217.5,"v":2785},{"t":-212.5,"v":2965},
{"t":-207.5,"v":2910},{"t":-202.5,"v":2750},{"t":-197.5,"v":2940},{"t":-192.5,"v":2960},{"t":-187.5,"v":2800},{"t":-182.5,"v":2770},{"t":-177.5,"v":2890},{"t":-172.5,"v":2970},{"t":-167.5,"v":2810},{"t":-162.5,"v":2780},
{"t":-157.5,"v":2775},{"t":-152.5,"v":2945},{"t":-147.5,"v":2815},{"t":-142.5,"v":2735},{"t":-137.5,"v":2925},{"t":-132.5,"v":2905},{"t":-127.5,"v":2755},{"t":-122.5,"v":2885},{"t":-117.5,"v":2935},{"t":-112.5,"v":2785},
{"t":-107.5,"v":2935},{"t":-102.5,"v":2785},{"t":-97.5,"v":2745},{"t":-92.5,"v":2885},{"t":-87.5,"v":2955},{"t":-82.5,"v":2765},{"t":-77.5,"v":2865},{"t":-72.5,"v":2775},{"t":-67.5,"v":2945},{"t":-62.5,"v":2815},
{"t":-57.5,"v":2750},{"t":-52.5,"v":2910},{"t":-47.5,"v":2940},{"t":-42.5,"v":2800},{"t":-37.5,"v":2820},{"t":-32.5,"v":2930},{"t":-27.5,"v":2740},{"t":-22.5,"v":2900},{"t":-17.5,"v":2770},{"t":-12.5,"v":2950},
{"t":-7.5,"v":2920},{"t":-2.5,"v":3000},{"t":2.5,"v":3150},{"t":7.5,"v":2970},{"t":12.5,"v":3050},{"t":17.5,"v":2780},{"t":22.5,"v":2900},{"t":27.5,"v":2980},{"t":32.5,"v":2820},{"t":37.5,"v":2790},
{"t":42.5,"v":2750},{"t":47.5,"v":2920},{"t":52.5,"v":2790},{"t":57.5,"v":2710},{"t":62.5,"v":2900},{"t":67.5,"v":2880},{"t":72.5,"v":2730},{"t":77.5,"v":2860},{"t":82.5,"v":2910},{"t":87.5,"v":2760},
{"t":92.5,"v":2880},{"t":97.5,"v":2730},{"t":102.5,"v":2690},{"t":107.5,"v":2830},{"t":112.5,"v":2900},{"t":117.5,"v":2710},{"t":122.5,"v":2810},{"t":127.5,"v":2720},{"t":132.5,"v":2890},{"t":137.5,"v":2760},
{"t":142.5,"v":2680},{"t":147.5,"v":2840},{"t":152.5,"v":2870},{"t":157.5,"v":2730},{"t":162.5,"v":2750},{"t":167.5,"v":2860},{"t":172.5,"v":2670},{"t":177.5,"v":2830},{"t":182.5,"v":2700},{"t":187.5,"v":2880},
{"t":192.5,"v":2800},{"t":197.5,"v":2640},{"t":202.5,"v":2830},{"t":207.5,"v":2850},{"t":212.5,"v":2690},{"t":217.5,"v":2660},{"t":222.5,"v":2780},{"t":227.5,"v":2860},{"t":232.5,"v":2700},{"t":237.5,"v":2670},
{"t":242.5,"v":2670},{"t":247.5,"v":2840},{"t":252.5,"v":2710},{"t":257.5,"v":2630},{"t":262.5,"v":2820},{"t":267.5,"v":2800},{"t":272.5,"v":2650},{"t":277.5,"v":2780},{"t":282.5,"v":2830},{"t":287.5,"v":2680},
{"t":292.5,"v":2820},{"t":297.5,"v":2670},{"t":302.5,"v":2630},{"t":307.5,"v":2770},{"t":312.5,"v":2840},{"t":317.5,"v":2650},{"t":322.5,"v":2750},{"t":327.5,"v":2660},{"t":332.5,"v":2830},{"t":337.5,"v":2700},
{"t":342.5,"v":2620},{"t":347.5,"v":2780},{"t":352.5,"v":2810},{"t":357.5,"v":2670},{"t":362.5,"v":2690},{"t":367.5,"v":2800},{"t":372.5,"v":2610},{"t":377.5,"v":2770},{"t":382.5,"v":2640},{"t":387.5,"v":2820},
{"t":392.5,"v":2740},{"t":397.5,"v":2580},{"t":402.5,"v":2770},{"t":407.5,"v":2790},{"t":412.5,"v":2630},{"t":417.5,"v":2600},{"t":422.5,"v":2720},{"t":427.5,"v":2800},{"t":432.5,"v":2640},{"t":437.5,"v":2610},
{"t":442.5,"v":2580},{"t":447.5,"v":2750},{"t":452.5,"v":2620},{"t":457.5,"v":2540},{"t":462.5,"v":2730}]
},
"vconcat":[
{"width":605.5,"height":89.7,"data":{"name":"TH0"},
"layer":[
{"mark":{"type":"line","color":"#ff0000","strokeWidth":3.4,"opacity":0.45,"clip":true},
"encoding":{"x":{"field":"t","type":"quantitative","scale":{"domain":[-522,487],"nice":false,"zero":false},"axis":{"orient":"bottom","values":[-500,-400,-300,-200,-100,0,100,200,300,400],"labels":false,"tickSize":-4,"title":null}},
"y":{"field":"v","type":"quantitative","scale":{"domain":[463,660],"nice":false,"zero":false},"axis":{"orient":"left","format":"d","values":[470,480,490,500,510,520,530,540,550,560,570,580,590,600,610,620,630,640,650,660],"tickSize":{"condition":{"test":"datum.value % 50 === 0","value":-5},"value":-2.5},"labelExpr":"datum.value % 50 === 0 ? datum.label : ''","title":null}}}},
{"mark":{"type":"line","color":"#ff0000","strokeWidth":1.1,"clip":true},
"encoding":{"x":{"field":"t","type":"quantitative","axis":{"orient":"top","values":[-500,-400,-300,-200,-100,0,100,200,300,400],"labels":false,"tickSize":-4,"title":null}},
"y":{"field":"v","type":"quantitative","axis":{"orient":"right","values":[470,480,490,500,510,520,530,540,550,560,570,580,590,600,610,620,630,640,650,660],"tickSize":{"condition":{"test":"datum.value % 50 === 0","value":-5},"value":-2.5},"labels":false,"title":null}}}},
{"data":{"values":[{"band":"TH0"}]},"mark":{"type":"text","align":"right","baseline":"alphabetic","dx":-8,"dy":15,"fontSize":15,"font":"Liberation Sans","color":"#000"},
"encoding":{"text":{"field":"band"},"x":{"datum":487,"type":"quantitative","axis":null},"y":{"datum":660,"type":"quantitative","axis":null}}}
],
"resolve":{"axis":{"x":"independent","y":"independent"}}},
{"width":605.5,"height":89.7,"data":{"name":"TH1"},
"layer":[
{"mark":{"type":"line","color":"#00ff00","strokeWidth":3.4,"opacity":0.45,"clip":true},
"encoding":{"x":{"field":"t","type":"quantitative","scale":{"domain":[-522,487],"nice":false,"zero":false},"axis":{"orient":"bottom","values":[-500,-400,-300,-200,-100,0,100,200,300,400],"labels":false,"tickSize":-4,"title":null}},
"y":{"field":"v","type":"quantitative","scale":{"domain":[379,591],"nice":false,"zero":false},"axis":{"orient":"left","format":"d","values":[380,390,400,410,420,430,440,450,460,470,480,490,500,510,520,530,540,550,560,570,580,590],"tickSize":{"condition":{"test":"datum.value % 50 === 0","value":-5},"value":-2.5},"labelExpr":"datum.value % 50 === 0 ? datum.label : ''","title":null}}}},
{"mark":{"type":"line","color":"#00ff00","strokeWidth":1.1,"clip":true},
"encoding":{"x":{"field":"t","type":"quantitative","axis":{"orient":"top","values":[-500,-400,-300,-200,-100,0,100,200,300,400],"labels":false,"tickSize":-4,"title":null}},
"y":{"field":"v","type":"quantitative","axis":{"orient":"right","values":[380,390,400,410,420,430,440,450,460,470,480,490,500,510,520,530,540,550,560,570,580,590],"tickSize":{"condition":{"test":"datum.value % 50 === 0","value":-5},"value":-2.5},"labels":false,"title":null}}}},
{"data":{"values":[{"band":"TH1"}]},"mark":{"type":"text","align":"right","baseline":"alphabetic","dx":-8,"dy":15,"fontSize":15,"font":"Liberation Sans","color":"#000"},
"encoding":{"text":{"field":"band"},"x":{"datum":487,"type":"quantitative","axis":null},"y":{"datum":591,"type":"quantitative","axis":null}}}
],
"resolve":{"axis":{"x":"independent","y":"independent"}}},
{"width":605.5,"height":89.7,"data":{"name":"TH2"},
"layer":[
{"mark":{"type":"line","color":"#0000ff","strokeWidth":3.4,"opacity":0.45,"clip":true},
"encoding":{"x":{"field":"t","type":"quantitative","scale":{"domain":[-522,487],"nice":false,"zero":false},"axis":{"orient":"bottom","values":[-500,-400,-300,-200,-100,0,100,200,300,400],"labels":false,"tickSize":-4,"title":null}},
"y":{"field":"v","type":"quantitative","scale":{"domain":[519,768],"nice":false,"zero":false},"axis":{"orient":"left","format":"d","values":[520,540,560,580,600,620,640,660,680,700,720,740,760],"tickSize":{"condition":{"test":"datum.value % 100 === 0","value":-5},"value":-2.5},"labelExpr":"datum.value % 100 === 0 ? datum.label : ''","title":"Counts/sec","titlePadding":25,"titleY":53}}}},
{"mark":{"type":"line","color":"#0000ff","strokeWidth":1.1,"clip":true},
"encoding":{"x":{"field":"t","type":"quantitative","axis":{"orient":"top","values":[-500,-400,-300,-200,-100,0,100,200,300,400],"labels":false,"tickSize":-4,"title":null}},
"y":{"field":"v","type":"quantitative","axis":{"orient":"right","values":[520,540,560,580,600,620,640,660,680,700,720,740,760],"tickSize":{"condition":{"test":"datum.value % 100 === 0","value":-5},"value":-2.5},"labels":false,"title":null}}}},
{"data":{"values":[{"band":"TH2"}]},"mark":{"type":"text","align":"right","baseline":"alphabetic","dx":-8,"dy":15,"fontSize":15,"font":"Liberation Sans","color":"#000"},
"encoding":{"text":{"field":"band"},"x":{"datum":487,"type":"quantitative","axis":null},"y":{"datum":768,"type":"quantitative","axis":null}}}
],
"resolve":{"axis":{"x":"independent","y":"independent"}}},
{"width":605.5,"height":89.7,"data":{"name":"TH3"},
"layer":[
{"mark":{"type":"line","color":"#00ffff","strokeWidth":3.4,"opacity":0.45,"clip":true},
"encoding":{"x":{"field":"t","type":"quantitative","scale":{"domain":[-522,487],"nice":false,"zero":false},"axis":{"orient":"bottom","values":[-500,-400,-300,-200,-100,0,100,200,300,400],"labels":false,"tickSize":-4,"title":null}},
"y":{"field":"v","type":"quantitative","scale":{"domain":[1004,1341],"nice":false,"zero":false},"axis":{"orient":"left","format":"d","values":[1020,1040,1060,1080,1100,1120,1140,1160,1180,1200,1220,1240,1260,1280,1300,1320,1340],"tickSize":{"condition":{"test":"datum.value % 100 === 0","value":-5},"value":-2.5},"labelExpr":"datum.value % 100 === 0 ? datum.label : ''","title":null}}}},
{"mark":{"type":"line","color":"#00ffff","strokeWidth":1.1,"clip":true},
"encoding":{"x":{"field":"t","type":"quantitative","axis":{"orient":"top","values":[-500,-400,-300,-200,-100,0,100,200,300,400],"labels":false,"tickSize":-4,"title":null}},
"y":{"field":"v","type":"quantitative","axis":{"orient":"right","values":[1020,1040,1060,1080,1100,1120,1140,1160,1180,1200,1220,1240,1260,1280,1300,1320,1340],"tickSize":{"condition":{"test":"datum.value % 100 === 0","value":-5},"value":-2.5},"labels":false,"title":null}}}},
{"data":{"values":[{"band":"TH3"}]},"mark":{"type":"text","align":"right","baseline":"alphabetic","dx":-8,"dy":15,"fontSize":15,"font":"Liberation Sans","color":"#000"},
"encoding":{"text":{"field":"band"},"x":{"datum":487,"type":"quantitative","axis":null},"y":{"datum":1341,"type":"quantitative","axis":null}}}
],
"resolve":{"axis":{"x":"independent","y":"independent"}}},
{"width":605.5,"height":89.7,"data":{"name":"TH0123"},
"layer":[
{"mark":{"type":"line","color":"#ff00ff","strokeWidth":3.4,"opacity":0.45,"clip":true},
"encoding":{"x":{"field":"t","type":"quantitative","scale":{"domain":[-522,487],"nice":false,"zero":false},"axis":{"orient":"bottom","values":[-500,-400,-300,-200,-100,0,100,200,300,400],"tickSize":-4,"labelPadding":5,"labelExpr":"datum.value % 200 === 0 ? datum.label : ''","title":"Time [sec] 0 = 2005/10/23 19:28:08","titlePadding":2,"titleX":291}},
"y":{"field":"v","type":"quantitative","scale":{"domain":[2497,3244],"nice":false,"zero":false},"axis":{"orient":"left","format":"d","values":[2500,2600,2700,2800,2900,3000,3100,3200],"tickSize":{"condition":{"test":"datum.value % 200 === 0","value":-5},"value":-2.5},"labelExpr":"datum.value % 200 === 0 ? datum.label : ''","title":null}}}},
{"mark":{"type":"line","color":"#ff00ff","strokeWidth":1.1,"clip":true},
"encoding":{"x":{"field":"t","type":"quantitative","axis":{"orient":"top","values":[-500,-400,-300,-200,-100,0,100,200,300,400],"labels":false,"tickSize":-4,"title":null}},
"y":{"field":"v","type":"quantitative","axis":{"orient":"right","values":[2500,2600,2700,2800,2900,3000,3100,3200],"tickSize":{"condition":{"test":"datum.value % 200 === 0","value":-5},"value":-2.5},"labels":false,"title":null}}}},
{"data":{"values":[{"band":"TH0123"}]},"mark":{"type":"text","align":"right","baseline":"alphabetic","dx":-6,"dy":15,"fontSize":15,"font":"Liberation Sans","color":"#000"},
"encoding":{"text":{"field":"band"},"x":{"datum":487,"type":"quantitative","axis":null},"y":{"datum":3244,"type":"quantitative","axis":null}}}
],
"resolve":{"axis":{"x":"independent","y":"independent"}}}
],
"spacing":0,
"bounds":"flush",
"config":{
"font":"Liberation Sans",
"view":{"stroke":"#000","strokeWidth":1.5},
"axis":{"domain":false,"grid":false,"tickColor":"#000","tickWidth":1,"labelFont":"Liberation Sans","labelFontSize":15,"labelColor":"#000","labelOverlap":false,"labelFlush":false,"labelBound":false,"titleFont":"Liberation Sans","titleFontSize":15,"titleFontWeight":"normal","titleColor":"#000"},
"axisY":{"labelPadding":15},
"axisX":{"labelPadding":7}
}
}
